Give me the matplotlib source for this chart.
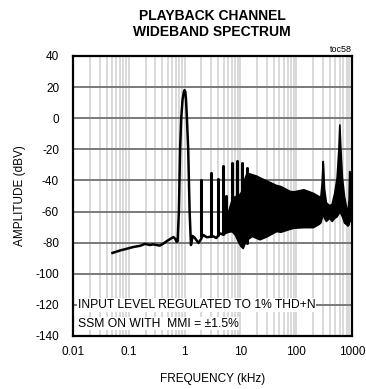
import numpy as np
import matplotlib
matplotlib.use("Agg")
import matplotlib.pyplot as plt

plt.rcParams['font.family'] = ['Liberation Sans', 'DejaVu Sans']
plt.rcParams['axes.unicode_minus'] = False

# low frequency floor + fundamental + floor up to the dense region (kHz, dBV)
trace_f = [0.051, 0.07, 0.09, 0.12, 0.16, 0.195, 0.24, 0.275, 0.36, 0.42, 0.48, 0.56,
           0.63, 0.68, 0.72, 0.75, 0.79, 0.83, 0.87, 0.92, 0.97, 1.0, 1.03, 1.06,
           1.1, 1.16, 1.23, 1.3, 1.39, 1.53, 1.77, 1.95, 2.15, 2.5, 3.3, 3.7,
           4.3, 5.0, 5.5]
trace_db = [-86.6, -85.0, -84.0, -82.8, -82.0, -80.8, -81.5, -81.1, -81.9, -80.5, -79.0, -77.5,
            -76.4, -77.5, -79.5, -79.0, -60, -20, 0, 12, 17, 18, 17, 12,
            0, -20, -60, -81.5, -75.7, -77, -80.2, -78, -75, -76.5, -76, -77,
            -74, -75, -73]

# harmonic spikes
harm_f = [1.97, 2.97, 4.0, 4.94, 5.6, 7.2, 8.8, 10.8, 13.0]
harm_db = [-40, -35, -39, -31, -50, -29, -27.5, -28.5, -32]
harm_base = [-76, -76, -75, -74, -72, -72, -75, -80, -80]

# dense wideband region: upper and lower envelope
band_f = [5.0, 6.0, 7.0, 8.0, 9.0, 10.0, 11.0, 12.0, 13.0, 16.0, 19.5, 22.0, 29.0, 44.0,
          52.0, 77.0, 90.0, 135.0, 200.0, 250.0, 270.0, 285.0, 293.0, 299.0, 305.0, 315.0,
          340.0, 390.0, 432.0, 480.0, 530.0, 570.0, 593.0, 620.0, 660.0, 720.0, 780.0,
          830.0, 870.0, 890.0, 940.0, 1000.0]
band_hi = [-72, -60, -52, -50, -50, -48, -45, -38, -35, -36, -37, -38, -40, -43,
           -43.6, -46.8, -47, -45.7, -48, -50, -51, -42, -33, -27.5, -33, -45,
           -54, -56, -55, -48, -38, -20, -4, -20, -38, -50, -57,
           -60, -52, -34, -35, -34]
band_lo = [-74, -73, -72.6, -75, -79, -82, -83.4, -80, -78, -75.7, -77, -77.8, -76, -72.5,
           -73, -71, -70.4, -70, -70, -68, -67, -64, -62, -61, -62, -64,
           -66, -64, -66, -64, -63, -61, -60, -61, -63, -67, -68,
           -69, -68, -66, -66, -65]

yticks = [40, 20, 0, -20, -40, -60, -80, -100, -120, -140]
xticks = [0.01, 0.1, 1, 10, 100, 1000]
xtick_labels = ["0.01", "0.1", "1", "10", "100", "1000"]

fig = plt.figure(figsize=(3.66, 3.89), dpi=100)
ax = fig.add_axes([73 / 366, 1 - 336 / 389, 279 / 366, 280 / 389])

ax.set_xscale("log")
ax.set_xlim(0.01, 1000)
ax.set_ylim(-140, 40)

# grid
for dec in [0.01, 0.1, 1, 10, 100]:
    for m in range(1, 10):
        ax.axvline(dec * m, color="#d0d0d0", lw=1.1, zorder=0)
for yv in yticks:
    ax.axhline(yv, color="#7a7a7a", lw=1.4, zorder=0)

ax.fill_between(band_f, band_lo, band_hi, color="black", lw=1.2, edgecolor="black", zorder=3)
ax.plot(trace_f, trace_db, color="black", lw=1.8, solid_joinstyle="round", zorder=3)
ax.vlines(harm_f, harm_base, harm_db, color="black", lw=2.2, capstyle="round", zorder=3)

ax.set_xticks(xticks)
ax.set_xticklabels(xtick_labels)
ax.set_xticks([], minor=True)
ax.set_yticks(yticks)
ax.tick_params(length=0, labelsize=8.5)
ax.tick_params(axis="x", pad=7)
ax.tick_params(axis="y", pad=10)

for s in ax.spines.values():
    s.set_linewidth(1.6)

ax.set_xlabel("FREQUENCY (kHz)", fontsize=8.5, labelpad=11)
ax.set_ylabel("AMPLITUDE (dBV)", fontsize=8.5, labelpad=7)

fig.text(0.58, 1 - 24 / 389, "PLAYBACK CHANNEL\nWIDEBAND SPECTRUM", ha="center", va="center",
         fontsize=10, fontweight="bold", linespacing=1.15)
fig.text(352 / 366, 1 - 52 / 389, "toc58", ha="right", va="baseline", fontsize=6.5)

box = dict(facecolor="white", edgecolor="none", pad=0.5)
ax.text(0.0122, -120, "INPUT LEVEL REGULATED TO 1% THD+N", fontsize=8.7, va="center",
        bbox=box, zorder=4)
ax.text(0.0122, -132, "SSM ON WITH  MMI = \u00b11.5%", fontsize=8.7, va="center",
        bbox=box, zorder=4)

fig.savefig("out.png", dpi=100)
